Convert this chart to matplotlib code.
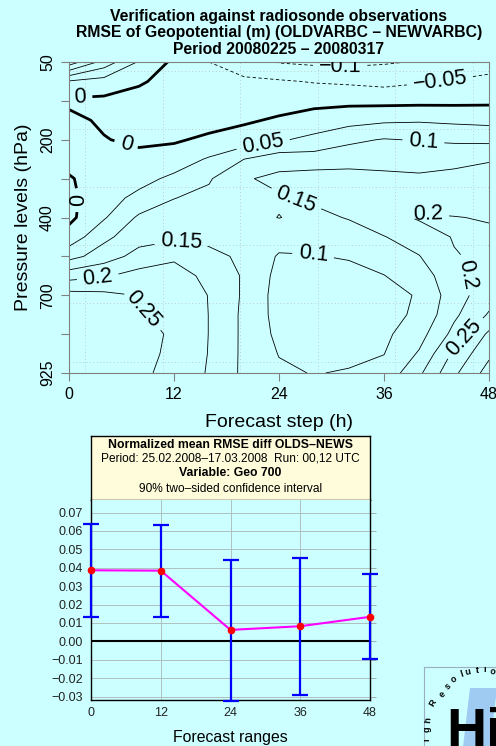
import numpy as np
import matplotlib
matplotlib.use("Agg")
import matplotlib.pyplot as plt
from matplotlib.patches import Polygon

plt.rcParams['font.family'] = ['Liberation Sans', 'DejaVu Sans']

BG = '#ccffff'

# ------------------------------------------------------------
# Data: RMSE difference field (forecast step x pressure level)
# ------------------------------------------------------------
level_names = ['50', '100', '200', '300', '400', '500', '700', '850', '925']
level_labels = ['50', '', '200', '', '400', '', '700', '', '925']
steps_c = [0, 4, 8, 12, 16, 20, 24, 28, 32, 36, 40, 44, 48]
# vertical positions (level index, 0 = 50 hPa, 8 = 925 hPa)
rows_c = [0, 0.5, 1, 1.5, 2, 2.5, 3, 3.5, 4, 4.5, 5, 5.5, 6, 6.5, 7, 7.5, 8]

col_00 = [0.23, 0.045, -0.008, 0.01, 0.022, 0.015, -0.004, -0.012, -0.012, 0.02, 0.082, 0.18, 0.268, 0.28, 0.285, 0.285, 0.28]
col_04 = [0.13, 0.03, -0.01, -0.006, 0.002, 0.012, 0.022, 0.032, 0.045, 0.088, 0.125, 0.195, 0.262, 0.272, 0.28, 0.28, 0.275]
col_08 = [0.045, 0.01, -0.03, -0.022, -0.008, 0.012, 0.035, 0.062, 0.108, 0.13, 0.168, 0.218, 0.248, 0.252, 0.262, 0.262, 0.258]
col_12 = [-0.01, -0.03, -0.035, -0.025, -0.006, 0.025, 0.06, 0.099, 0.12, 0.14, 0.19, 0.225, 0.24, 0.245, 0.245, 0.242, 0.238]
col_16 = [-0.05, -0.045, -0.04, -0.02, 0.01, 0.055, 0.095, 0.112, 0.125, 0.138, 0.162, 0.185, 0.198, 0.199, 0.199, 0.198, 0.195]
col_20 = [-0.075, -0.042, -0.022, -0.006, 0.02, 0.1, 0.145, 0.142, 0.136, 0.138, 0.142, 0.145, 0.143, 0.14, 0.14, 0.14, 0.14]
col_24 = [-0.103, -0.045, -0.02, 0.006, 0.045, 0.128, 0.162, 0.145, 0.151, 0.122, 0.095, 0.085, 0.08, 0.082, 0.088, 0.098, 0.108]
col_28 = [-0.11, -0.053, -0.015, 0.022, 0.062, 0.125, 0.17, 0.158, 0.138, 0.118, 0.098, 0.08, 0.072, 0.07, 0.072, 0.08, 0.098]
col_32 = [-0.112, -0.058, -0.012, 0.032, 0.09, 0.13, 0.17, 0.168, 0.153, 0.128, 0.104, 0.085, 0.075, 0.072, 0.075, 0.088, 0.104]
col_36 = [-0.105, -0.065, -0.014, 0.042, 0.103, 0.135, 0.16, 0.178, 0.182, 0.148, 0.118, 0.099, 0.088, 0.085, 0.09, 0.099, 0.115]
col_40 = [-0.097, -0.055, -0.013, 0.045, 0.097, 0.13, 0.158, 0.18, 0.205, 0.175, 0.148, 0.122, 0.103, 0.108, 0.13, 0.155, 0.19]
col_44 = [-0.085, -0.046, -0.012, 0.04, 0.092, 0.135, 0.165, 0.185, 0.201, 0.203, 0.197, 0.186, 0.178, 0.19, 0.215, 0.26, 0.29]
col_48 = [-0.075, -0.035, -0.01, 0.036, 0.088, 0.148, 0.16, 0.18, 0.198, 0.205, 0.21, 0.222, 0.228, 0.255, 0.31, 0.34, 0.37]

field = np.array([col_00, col_04, col_08, col_12, col_16, col_20, col_24,
                  col_28, col_32, col_36, col_40, col_44, col_48]).T

contour_levels = [-0.1, -0.05, 0, 0.05, 0.1, 0.15, 0.2, 0.25, 0.3, 0.35]

# where R put the inline labels (step, level index)
label_spots = [(1.3, 0.93), (6.4, 2.21), (1.0, 3.55), (31, 0.03), (42.4, 0.5),
               (22.2, 2.13), (40.5, 2.06), (26.0, 3.5), (41.0, 4.04),
               (12.7, 4.76), (27.9, 4.96), (3.3, 5.55), (8.7, 6.32),
               (45.3, 5.48), (45.5, 7.15)]

# dotted reference grid of the original plot
grid_x = [1.83, 10.7, 19.57, 28.44, 37.31, 46.18]
grid_y = [0.23, 1.73, 3.22, 4.72, 6.21, 7.71]

# ------------------------------------------------------------
# Data: normalized mean RMSE diff with 90% CI
# ------------------------------------------------------------
ranges = [0, 12, 24, 36, 48]
mean_diff = [0.0386, 0.0384, 0.0062, 0.0082, 0.0133]
ci_low = [0.0134, 0.0134, -0.0325, -0.0290, -0.0095]
ci_high = [0.0639, 0.0634, 0.0444, 0.0454, 0.0364]
yticks_b = [-0.03, -0.02, -0.01, 0.0, 0.01, 0.02, 0.03, 0.04, 0.05, 0.06, 0.07]

W, H = 496, 746
fig = plt.figure(figsize=(W / 100, H / 100), dpi=100, facecolor=BG)


def px_axes(x0, y0, x1, y1):
    return fig.add_axes([x0 / W, 1 - y1 / H, (x1 - x0) / W, (y1 - y0) / H])


# ============================================================
# Top: contour plot (level index drawn downward as negative y,
# so inline label rotation is not mirrored by an inverted axis)
# ============================================================
ax = px_axes(69, 62, 489, 373)
ax.set_facecolor(BG)
ydown = [-r for r in rows_c]

for gx in grid_x:
    ax.axvline(gx, color='#bccccc', lw=0.7, ls=(0, (1, 2.5)), zorder=0)
for gy in grid_y:
    ax.axhline(-gy, color='#bccccc', lw=0.7, ls=(0, (1, 2.5)), zorder=0)

lws = [2.0 if lv == 0 else 0.6 for lv in contour_levels]
lss = [(0, (4, 3)) if lv < 0 else 'solid' for lv in contour_levels]
cs = ax.contour(steps_c, ydown, field, levels=contour_levels, colors='k',
                linewidths=lws, linestyles=lss)


def fmt(v):
    s = '%g' % v
    return s.replace('-', '\u2212')


ax.clabel(cs, manual=[(x, -y) for x, y in label_spots], inline=True,
          inline_spacing=6, fontsize=15.5, fmt=fmt)

ax.set_xlim(0, 48)
ax.set_ylim(-8, 0)
ax.set_xticks([0, 12, 24, 36, 48])
ax.set_yticks([-i for i in range(len(level_names))])
ax.set_yticklabels(level_labels, rotation=90, va='center')
for sp in ax.spines.values():
    sp.set_color('#808080')
    sp.set_linewidth(0.8)
ax.tick_params(direction='out', length=6, width=0.8, color='#808080',
               labelsize=11.5, pad=4)
ax.set_xlabel('Forecast step (h)', fontsize=14, labelpad=9)
ax.set_ylabel('Pressure levels (hPa)', fontsize=14, labelpad=6)

fig.text(279 / W, 1 - 33 / H,
         'Verification against radiosonde observations\n'
         'RMSE of Geopotential (m) (OLDVARBC \u2013 NEWVARBC)\n'
         'Period 20080225 \u2013 20080317',
         ha='center', va='center', fontsize=11.3, fontweight='bold',
         linespacing=1.15)

# ============================================================
# Bottom: normalized RMSE difference
# ============================================================
tb = px_axes(91, 436, 370, 500)
tb.set_facecolor('#fffcdc')
tb.set_xticks([])
tb.set_yticks([])
for sp in tb.spines.values():
    sp.set_color('black')
    sp.set_linewidth(1.0)
tb.text(0.5, 0.86, 'Normalized mean RMSE diff OLDS\u2013NEWS', ha='center',
        va='center', fontsize=8.8, fontweight='bold', transform=tb.transAxes)
tb.text(0.5, 0.65, 'Period: 25.02.2008\u201317.03.2008  Run: 00,12 UTC',
        ha='center', va='center', fontsize=8.6, transform=tb.transAxes)
tb.text(0.5, 0.42, 'Variable: Geo 700', ha='center', va='center',
        fontsize=8.8, fontweight='bold', transform=tb.transAxes)
tb.text(0.5, 0.17, '90% two\u2013sided confidence interval', ha='center',
        va='center', fontsize=8.6, transform=tb.transAxes)

bx = px_axes(91, 500, 370, 700)
bx.set_facecolor(BG)
bx.set_xlim(0, 48)
bx.set_ylim(-0.0319, 0.0768)
bx.set_xticks(ranges)
bx.set_yticks(yticks_b)
bx.set_yticklabels([('%.2f' % v).replace('-', '\u2212') if v != 0 else '0.00'
                    for v in yticks_b])
bx.grid(True, color='#b0c0c0', lw=0.7)
bx.set_axisbelow(True)
bx.tick_params(left=False, bottom=False, right=True, length=4.3, width=0.7,
               color='#a0b0b0', labelsize=9, pad=1.5, labelcolor='#222222')
bx.tick_params(axis='x', pad=0.5)
for sp in bx.spines.values():
    sp.set_color('black')
    sp.set_linewidth(1.0)
bx.spines['top'].set_visible(False)

bx.axhline(0, color='black', lw=1.5, zorder=2)
m = np.array(mean_diff)
yerr = [m - np.array(ci_low), np.array(ci_high) - m]
bx.errorbar(ranges, mean_diff, yerr=yerr, fmt='none', ecolor='#0000ff',
            elinewidth=1.6, capsize=6, capthick=1.6, zorder=3, clip_on=False)
bx.plot(ranges, mean_diff, color='#ff00ff', lw=1.5, zorder=4, clip_on=False)
bx.plot(ranges, mean_diff, 'o', color='#ff0000', ms=4.5, zorder=5,
        clip_on=False)
bx.set_xlabel('Forecast ranges', fontsize=11.4, labelpad=8)

# ============================================================
# Logo corner (cropped in the original)
# ============================================================
lg = px_axes(424, 667, 496, 746)
lg.set_xlim(424, 496)
lg.set_ylim(746, 667)
lg.set_facecolor(BG)
lg.set_xticks([])
lg.set_yticks([])
for k, sp in lg.spines.items():
    sp.set_color('#9ab0c0')
    sp.set_linewidth(0.8)
    if k in ('right', 'bottom'):
        sp.set_visible(False)
lg.add_patch(Polygon([(470, 688), (497, 688), (490, 747), (463, 747)],
                     closed=True, color='#9fcaf2', lw=0))
lg.text(446, 747, 'Hi', fontsize=40, fontweight='bold', ha='left',
        va='baseline', color='black', clip_on=True)
logo_chars = list('ighResolutio')
logo_x = [427, 427, 428, 433, 442, 448, 454, 462, 468, 477, 485, 493]
logo_y = [740, 729, 720, 703, 694, 686, 679, 674, 672, 670, 670, 672]
logo_rot = [90, 90, 85, 60, 48, 40, 30, 18, 10, 3, 0, -5]
for ch, x, y, r in zip(logo_chars, logo_x, logo_y, logo_rot):
    lg.text(x, y, ch, fontsize=6.5, fontweight='bold', ha='center',
            va='center', rotation=r, clip_on=True)

fig.savefig('out.png', dpi=100, facecolor=BG)
